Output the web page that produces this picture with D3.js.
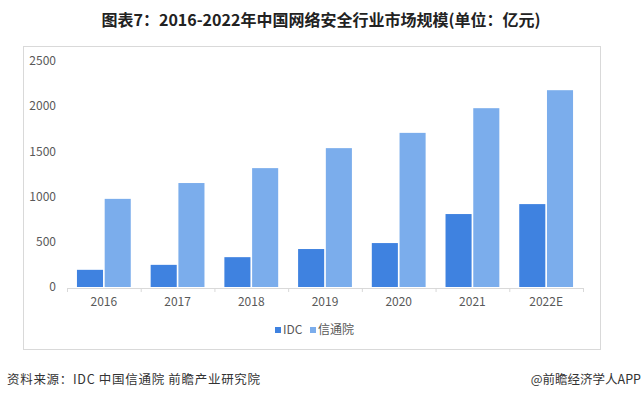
<!DOCTYPE html>
<html>
<head>
<meta charset="utf-8">
<script src="https://cdn.jsdelivr.net/npm/d3@7"></script>
<style>
  body { margin: 0; background: #fff; }
  svg { display: block; font-family: "Microsoft YaHei", "Noto Sans CJK SC", sans-serif; }
</style>
</head>
<body>
<svg id="chart" width="643" height="398"></svg>
<script>
const years = ["2016", "2017", "2018", "2019", "2020", "2021", "2022E"];
const seriesNames = ["IDC", "信通院"];
const idcValues = [190, 245, 330, 420, 486, 807, 917];
const caictValues = [975, 1150, 1315, 1536, 1705, 1978, 2177];
const yTicks = [0, 500, 1000, 1500, 2000, 2500];

const colors = { IDC: "#3f82e0", "信通院": "#7badec" };

const svg = d3.select("#chart");

// title
svg.append("text")
  .attr("x", 321)
  .attr("y", 26)
  .attr("text-anchor", "middle")
  .attr("font-size", 16)
  .attr("font-weight", "bold")
  .attr("fill", "#222")
  .text("图表7：2016-2022年中国网络安全行业市场规模(单位：亿元)");

// outer frame
svg.append("rect")
  .attr("x", 23.5)
  .attr("y", 46.5)
  .attr("width", 577)
  .attr("height", 303)
  .attr("fill", "none")
  .attr("stroke", "#d9d9d9");

const margin = { left: 67, right: 583, top: 61, bottom: 287 };

const x0 = d3.scaleBand()
  .domain(years)
  .range([margin.left, margin.right])
  .paddingInner(0.27)
  .paddingOuter(0.135);

const x1 = d3.scaleBand()
  .domain(seriesNames)
  .range([0, x0.bandwidth()])
  .paddingInner(0.06);

const y = d3.scaleLinear()
  .domain([0, 2500])
  .range([margin.bottom, margin.top]);

// y axis labels
svg.append("g")
  .selectAll("text")
  .data(yTicks)
  .join("text")
  .attr("x", 56)
  .attr("y", d => y(d))
  .attr("dy", "0.35em")
  .attr("text-anchor", "end")
  .attr("font-size", 12)
  .attr("fill", "#595959")
  .text(d => d);

// bars
const rows = years.map((yr, i) => ({ year: yr, values: [
  { key: "IDC", value: idcValues[i] },
  { key: "信通院", value: caictValues[i] }
]}));

svg.append("g")
  .selectAll("g")
  .data(rows)
  .join("g")
  .attr("transform", d => "translate(" + x0(d.year) + ",0)")
  .selectAll("rect")
  .data(d => d.values)
  .join("rect")
  .attr("x", d => x1(d.key))
  .attr("y", d => y(d.value))
  .attr("width", x1.bandwidth())
  .attr("height", d => y(0) - y(d.value))
  .attr("fill", d => colors[d.key]);

// x axis
const xAxis = d3.axisBottom(d3.scaleLinear().domain([0, years.length]).range([margin.left, margin.right]))
  .tickValues(d3.range(years.length + 1))
  .tickSize(4)
  .tickFormat("");

const gx = svg.append("g")
  .attr("transform", "translate(0," + (y(0) + 1) + ")")
  .call(xAxis);
gx.select(".domain").attr("stroke", "#d9d9d9");
gx.selectAll(".tick line").attr("stroke", "#d9d9d9");

svg.append("g")
  .selectAll("text")
  .data(years)
  .join("text")
  .attr("x", d => x0(d) + x0.bandwidth() / 2)
  .attr("y", 306)
  .attr("text-anchor", "middle")
  .attr("font-size", 12)
  .attr("fill", "#595959")
  .text(d => d);

// legend
const legendX = [275, 310];
const legend = svg.append("g")
  .selectAll("g")
  .data(seriesNames)
  .join("g")
  .attr("transform", (d, i) => "translate(" + legendX[i] + ",330)");
legend.append("rect")
  .attr("x", 0).attr("y", -3)
  .attr("width", 6).attr("height", 6)
  .attr("fill", d => colors[d]);
legend.append("text")
  .attr("x", 8)
  .attr("dy", "0.35em")
  .attr("font-size", 12)
  .attr("fill", "#595959")
  .text(d => d);

// footer
svg.append("text")
  .attr("x", 7)
  .attr("y", 384)
  .attr("font-size", 12.5)
  .attr("letter-spacing", 0.7)
  .attr("fill", "#333")
  .text("资料来源：IDC 中国信通院 前瞻产业研究院");

svg.append("text")
  .attr("x", 641)
  .attr("y", 384)
  .attr("text-anchor", "end")
  .attr("font-size", 12.5)
  .attr("fill", "#333")
  .text("@前瞻经济学人APP");
</script>
</body>
</html>
